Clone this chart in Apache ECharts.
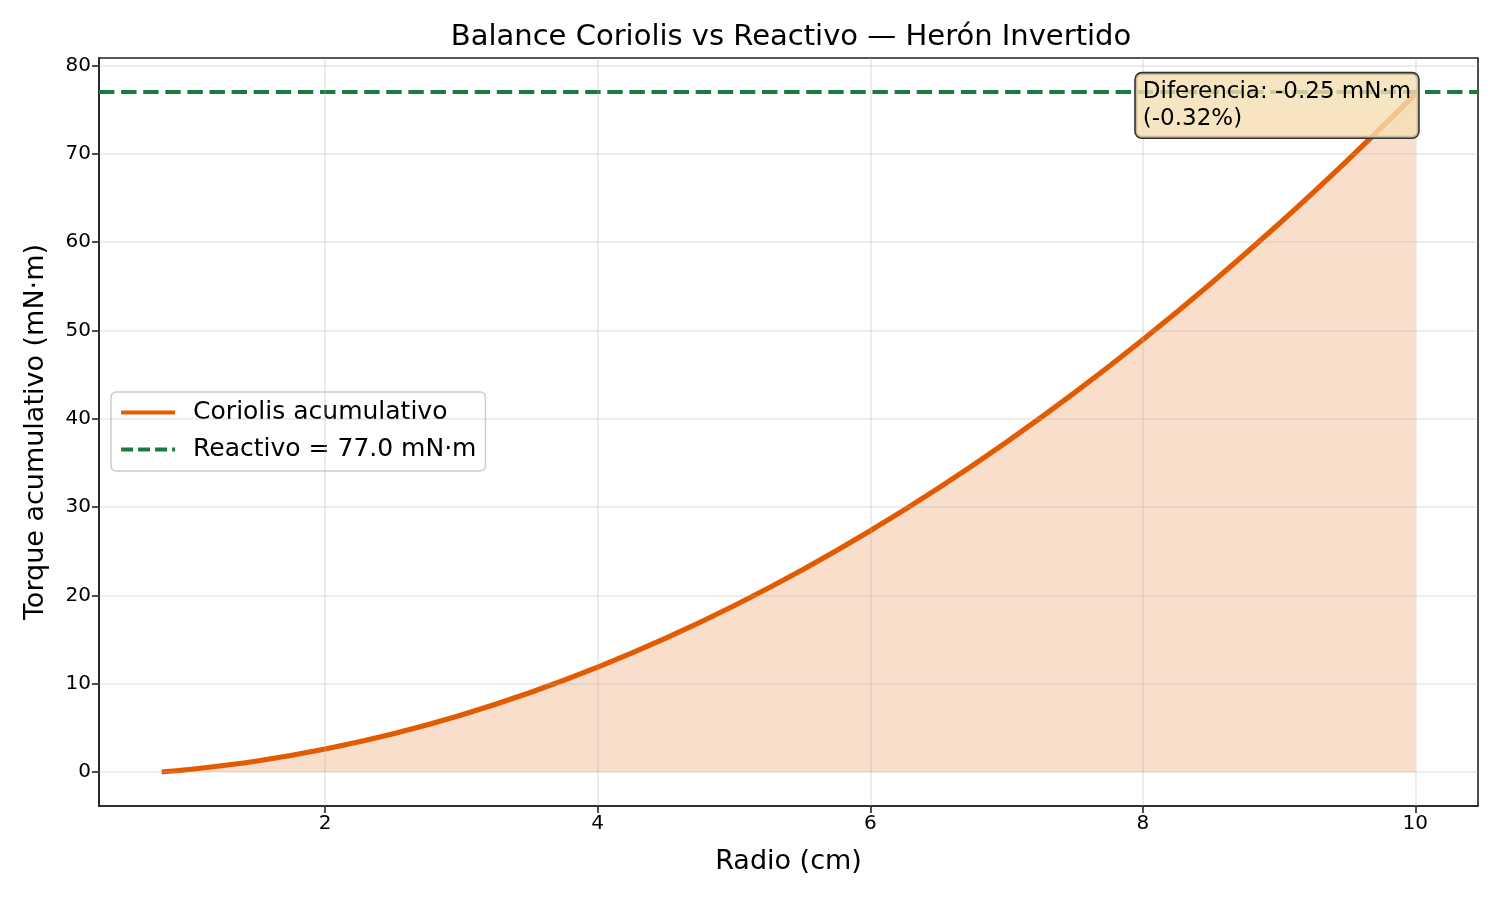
<!DOCTYPE html>
<html><head><meta charset="utf-8">
<script src="https://cdn.jsdelivr.net/npm/echarts@6/dist/echarts.min.js"></script>
<style>html,body{margin:0;padding:0;background:#fff}#c{width:1500px;height:900px}</style>
</head><body><div id="c"></div>
<script>
// Data
const radio  = [0.8, 1.0, 1.5, 2.0, 2.5, 3.0, 3.5, 4.0, 4.5, 5.0, 5.5, 6.0, 6.5, 7.0, 7.5, 8.0, 8.5, 9.0, 9.5, 10.0];
const torque = [0.0, 0.28, 1.24, 2.60, 4.33, 6.46, 8.97, 11.87, 15.15, 18.82, 22.87, 27.31, 32.14, 37.36, 42.96, 48.95, 55.32, 62.08, 69.23, 76.75];
const reactivo = 77.0;
const xTicks = [2, 4, 6, 8, 10];
const yTicks = [0, 10, 20, 30, 40, 50, 60, 70, 80];
const xRange = [0.34, 10.46];
const yRange = [-3.85, 80.85];
const titleText = 'Balance Coriolis vs Reactivo — Herón Invertido';
const xName = 'Radio (cm)';
const yName = 'Torque acumulativo (mN·m)';
const coriolisName = 'Coriolis acumulativo';
const reactivoName = 'Reactivo = ' + reactivo.toFixed(1) + ' mN·m';
const annotLines = ['Diferencia: -0.25 mN·m', '(-0.32%)'];
const annotAt = [8, 79.1];

const FONT = 'DejaVu Sans';
const ORANGE = '#e35b00';
const GREEN = '#1b7a3e';
const DASH = [15.4, 6.7];
const curve = radio.map((r, i) => [r, torque[i]]);

const chart = echarts.init(document.getElementById('c'), null, {renderer: 'canvas'});
chart.setOption({
  animation: false,
  backgroundColor: '#ffffff',
  textStyle: {fontFamily: FONT},
  title: {
    text: titleText, left: 786, top: 18, textAlign: 'center',
    textStyle: {fontFamily: FONT, fontSize: 29, fontWeight: 'normal', color: '#000'}
  },
  grid: {left: 99, right: 22, top: 58, bottom: 94, show: true, borderColor: '#222', borderWidth: 1.6, backgroundColor: 'transparent'},
  legend: {
    data: [
      {name: coriolisName, lineStyle: {width: 4.2, color: ORANGE, type: 'solid'}},
      {name: reactivoName, lineStyle: {width: 4.2, color: GREEN, type: [12, 5]}}
    ],
    orient: 'vertical', left: 111, top: 392,
    backgroundColor: 'rgba(255,255,255,0.8)', borderColor: '#cccccc', borderWidth: 1.5, borderRadius: 5,
    padding: [8, 9, 9, 8], itemWidth: 54, itemHeight: 25, itemGap: 12,
    itemStyle: {opacity: 0, borderWidth: 0},
    textStyle: {fontFamily: FONT, fontSize: 25, color: '#000', lineHeight: 25, padding: [0, 0, 0, 13]}
  },
  xAxis: {
    type: 'value', min: xRange[0], max: xRange[1],
    name: xName, nameLocation: 'middle', nameGap: 42,
    nameTextStyle: {fontFamily: FONT, fontSize: 27, color: '#000'},
    axisLine: {show: true, onZero: false, lineStyle: {color: '#222', width: 1.6}},
    axisTick: {show: true, length: 7, lineStyle: {color: '#222', width: 1.6}, customValues: xTicks},
    axisLabel: {show: true, margin: 8, fontSize: 20, color: '#000', fontFamily: FONT, customValues: xTicks},
    splitLine: {show: false}
  },
  yAxis: {
    type: 'value', min: yRange[0], max: yRange[1],
    name: yName, nameLocation: 'middle', nameGap: 50, nameRotate: 90,
    nameTextStyle: {fontFamily: FONT, fontSize: 27, color: '#000'},
    axisLine: {show: true, onZero: false, lineStyle: {color: '#222', width: 1.6}},
    axisTick: {show: true, length: 7, lineStyle: {color: '#222', width: 1.6}, customValues: yTicks},
    axisLabel: {show: true, margin: 8, fontSize: 20, color: '#000', fontFamily: FONT, customValues: yTicks},
    splitLine: {show: false}
  },
  series: [
    {
      name: 'fill', type: 'line', data: curve, symbol: 'none', silent: true, z: 1, smooth: 0.4,
      lineStyle: {width: 0, opacity: 0},
      areaStyle: {color: ORANGE, opacity: 0.2, origin: 0}
    },
    {
      name: 'gridlines', type: 'line', data: curve, symbol: 'none', silent: true, z: 2,
      lineStyle: {width: 0, opacity: 0},
      markLine: {
        silent: true, symbol: 'none', animation: false,
        label: {show: false},
        lineStyle: {color: 'rgba(176,176,176,0.3)', type: 'solid', width: 1.6},
        emphasis: {disabled: true},
        data: xTicks.map(v => ({xAxis: v})).concat(yTicks.map(v => ({yAxis: v})))
      }
    },
    {
      name: coriolisName, type: 'line', data: curve, symbol: 'none', z: 3, smooth: 0.4,
      lineStyle: {color: ORANGE, width: 5.2}, itemStyle: {color: ORANGE}
    },
    {
      name: reactivoName, type: 'line', data: [[xRange[0], reactivo], [xRange[1], reactivo]], symbol: 'none', z: 4,
      lineStyle: {color: GREEN, width: 4.2, type: DASH}, itemStyle: {color: GREEN}
    }
  ]
});

const p = chart.convertToPixel({xAxisIndex: 0, yAxisIndex: 0}, annotAt);
chart.setOption({
  graphic: [{
    type: 'text', z: 100, x: p[0] - 7, y: p[1],
    style: {
      text: annotLines.join('\n'), font: '23px "DejaVu Sans"', fill: '#000',
      align: 'left', verticalAlign: 'top', lineHeight: 27,
      backgroundColor: 'rgba(245,222,179,0.8)', borderColor: '#333', borderWidth: 1.6, borderRadius: 6,
      padding: [5, 7, 5, 7]
    }
  }]
});
</script></body></html>
